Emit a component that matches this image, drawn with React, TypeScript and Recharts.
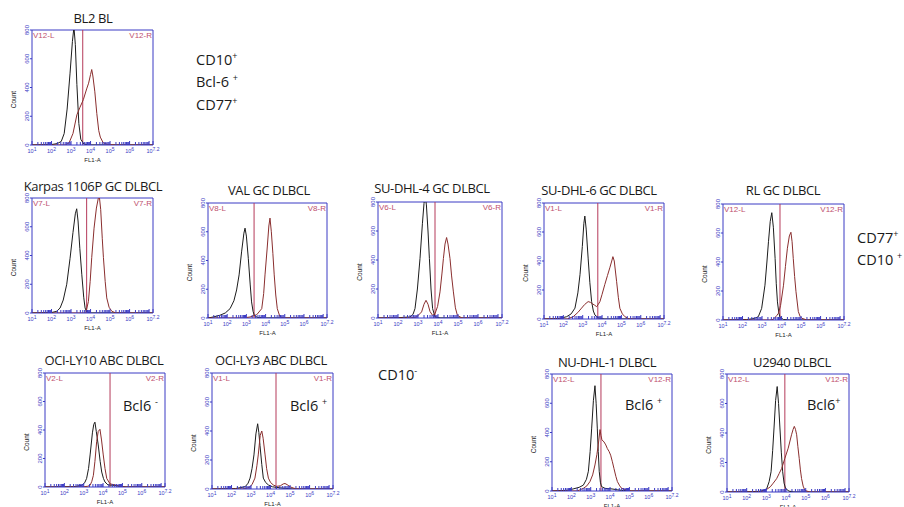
import { LineChart, Line, XAxis, YAxis, ReferenceLine, ReferenceArea } from 'recharts';

type Pt = [number, number];

const BLUE = '#3b3bc4';
const GATE = '#b53a5a';
const GATE_TXT = '#c0506e';
const STAIN = '#8a2e2e';
const ISO = '#1c1c1c';

// FL1-A decades (log scale, 10^1 .. 10^7.2) and count ticks
const decades = [1, 2, 3, 4, 5, 6, 7, 7.2];
const decadeLabels = [1, 2, 3, 4, 5, 6, 7.2];
const countTicks = [0, 200, 400, 600, 800];
const minorTicks: number[] = [];
for (let d = 1; d < 7.2; d++) {
  for (let k = 2; k <= 9; k++) {
    const v = d + Math.log10(k);
    if (v < 7.2) minorTicks.push(v);
  }
}
const flTicks = [...decades, ...minorTicks].sort((a, b) => a - b);

// histograms: [log10 FL1-A, count]
const bl2Iso: Pt[] = [[1, 0], [2.0, 3], [2.3, 10], [2.5, 25], [2.65, 80], [2.8, 250], [2.95, 500], [3.07, 720], [3.15, 820], [3.22, 700], [3.3, 420], [3.4, 150], [3.5, 40], [3.65, 8], [3.9, 0], [7.2, 0]];
const bl2Stain: Pt[] = [[1, 0], [2.7, 0], [2.9, 15], [3.1, 80], [3.3, 210], [3.45, 260], [3.63, 315], [3.8, 390], [3.9, 430], [4.0, 490], [4.06, 525], [4.12, 480], [4.22, 370], [4.32, 220], [4.42, 100], [4.5, 55], [4.65, 15], [4.9, 3], [5.3, 0], [7.2, 0]];

const karpasIso: Pt[] = [[1, 0], [2.0, 3], [2.27, 12], [2.44, 35], [2.6, 90], [2.78, 200], [2.95, 380], [3.1, 560], [3.22, 690], [3.29, 725], [3.36, 640], [3.45, 450], [3.55, 270], [3.65, 110], [3.72, 35], [3.8, 8], [4.0, 0], [7.2, 0]];
const karpasStain: Pt[] = [[1, 0], [3.7, 0], [3.77, 10], [3.89, 80], [3.98, 220], [4.06, 385], [4.18, 590], [4.3, 730], [4.4, 800], [4.45, 810], [4.52, 720], [4.6, 520], [4.66, 385], [4.75, 220], [4.83, 105], [4.95, 40], [5.09, 12], [5.3, 0], [7.2, 0]];

const valIso: Pt[] = [[1, 0], [1.27, 7], [1.62, 19], [1.9, 35], [2.15, 65], [2.35, 120], [2.49, 195], [2.62, 300], [2.75, 460], [2.87, 590], [2.93, 625], [3.0, 570], [3.1, 415], [3.2, 230], [3.27, 112], [3.35, 45], [3.42, 15], [3.6, 3], [4.0, 0], [7.2, 0]];
const valStain: Pt[] = [[1, 0], [2.8, 0], [3.19, 7], [3.54, 23], [3.8, 65], [3.9, 170], [3.97, 300], [4.08, 480], [4.17, 640], [4.23, 695], [4.3, 600], [4.38, 450], [4.45, 300], [4.53, 160], [4.61, 65], [4.75, 8], [5.0, 0], [7.2, 0]];

const sudhl4Iso: Pt[] = [[1, 0], [2.0, 2], [2.6, 7], [2.75, 25], [2.85, 65], [2.97, 200], [3.1, 410], [3.22, 650], [3.3, 790], [3.35, 850], [3.42, 780], [3.5, 600], [3.57, 410], [3.65, 200], [3.73, 65], [3.85, 8], [4.1, 0], [7.2, 0]];
const sudhl4Stain: Pt[] = [[1, 0], [2.6, 0], [2.93, 7], [3.18, 42], [3.3, 95], [3.4, 122], [3.5, 95], [3.6, 45], [3.73, 18], [3.85, 30], [3.98, 80], [4.1, 180], [4.2, 310], [4.27, 410], [4.35, 510], [4.43, 555], [4.5, 510], [4.6, 410], [4.68, 290], [4.77, 180], [4.87, 70], [4.97, 18], [5.2, 0], [7.2, 0]];

const sudhl6Iso: Pt[] = [[1, 0], [1.8, 3], [2.17, 16], [2.4, 35], [2.6, 75], [2.75, 180], [2.86, 306], [2.98, 500], [3.06, 660], [3.11, 710], [3.18, 620], [3.28, 420], [3.37, 250], [3.46, 120], [3.55, 55], [3.63, 28], [3.8, 8], [4.1, 0], [7.2, 0]];
const sudhl6Stain: Pt[] = [[1, 0], [2.2, 0], [2.51, 16], [2.75, 45], [2.94, 75], [3.1, 100], [3.28, 120], [3.4, 115], [3.5, 105], [3.62, 95], [3.72, 85], [3.8, 100], [3.89, 120], [4.0, 170], [4.14, 237], [4.28, 300], [4.4, 353], [4.5, 400], [4.56, 430], [4.63, 400], [4.75, 260], [4.84, 150], [4.92, 74], [5.05, 35], [5.18, 16], [5.4, 0], [7.2, 0]];

const rlIso: Pt[] = [[1, 0], [2.2, 3], [2.6, 10], [2.81, 23], [2.98, 80], [3.15, 240], [3.25, 400], [3.33, 540], [3.42, 680], [3.5, 740], [3.58, 640], [3.67, 425], [3.73, 250], [3.79, 125], [3.86, 50], [3.92, 20], [4.1, 3], [4.4, 0], [7.2, 0]];
const rlStain: Pt[] = [[1, 0], [3.4, 0], [3.58, 5], [3.75, 30], [3.84, 46], [3.95, 100], [4.1, 240], [4.2, 370], [4.3, 495], [4.4, 580], [4.48, 605], [4.54, 540], [4.6, 425], [4.67, 300], [4.74, 195], [4.86, 58], [4.95, 25], [5.04, 12], [5.3, 0], [7.2, 0]];

const ly10Iso: Pt[] = [[1, 0], [2.5, 2], [2.9, 12], [3.05, 30], [3.15, 60], [3.25, 130], [3.33, 225], [3.45, 380], [3.52, 440], [3.58, 455], [3.65, 390], [3.75, 295], [3.85, 180], [3.93, 105], [4.02, 60], [4.1, 35], [4.25, 15], [4.5, 12], [4.7, 10], [4.9, 3], [5.2, 0], [7.2, 0]];
const ly10Stain: Pt[] = [[1, 0], [2.9, 0], [3.2, 5], [3.33, 12], [3.42, 40], [3.5, 82], [3.58, 180], [3.67, 320], [3.75, 390], [3.84, 405], [3.92, 330], [4.01, 225], [4.1, 130], [4.19, 60], [4.36, 22], [4.6, 15], [4.8, 8], [5.1, 0], [7.2, 0]];

const ly3Iso: Pt[] = [[1, 0], [2.2, 3], [2.7, 16], [2.85, 40], [2.95, 75], [3.05, 140], [3.15, 235], [3.25, 380], [3.34, 450], [3.4, 390], [3.46, 300], [3.55, 170], [3.63, 75], [3.75, 45], [3.89, 28], [4.1, 15], [4.5, 8], [4.8, 4], [5.1, 0], [7.2, 0]];
const ly3Stain: Pt[] = [[1, 0], [2.6, 0], [2.9, 10], [3.05, 30], [3.2, 75], [3.3, 160], [3.37, 235], [3.47, 370], [3.55, 400], [3.62, 350], [3.72, 235], [3.8, 140], [3.89, 75], [4.0, 45], [4.14, 28], [4.3, 18], [4.5, 22], [4.65, 35], [4.74, 38], [4.85, 30], [5.0, 15], [5.2, 5], [5.4, 0], [7.2, 0]];

const nudhlIso: Pt[] = [[1, 0], [1.8, 5], [2.09, 14], [2.4, 25], [2.62, 40], [2.78, 80], [2.88, 135], [2.97, 270], [3.05, 430], [3.14, 620], [3.22, 720], [3.28, 600], [3.34, 430], [3.39, 270], [3.44, 135], [3.5, 60], [3.56, 30], [3.74, 18], [4.1, 14], [4.4, 8], [4.7, 3], [5.0, 0], [7.2, 0]];
const nudhlStain: Pt[] = [[1, 0], [2.3, 0], [2.62, 18], [2.8, 35], [2.96, 64], [3.1, 110], [3.22, 178], [3.32, 250], [3.39, 315], [3.48, 420], [3.53, 380], [3.58, 350], [3.69, 335], [3.78, 315], [3.86, 290], [3.95, 270], [4.03, 245], [4.12, 200], [4.2, 155], [4.3, 100], [4.38, 64], [4.5, 35], [4.6, 18], [4.85, 7], [5.1, 0], [7.2, 0]];

const u2940Iso: Pt[] = [[1, 0], [2.3, 2], [2.68, 5], [2.9, 12], [3.02, 23], [3.14, 70], [3.24, 137], [3.32, 280], [3.39, 434], [3.47, 620], [3.55, 715], [3.62, 600], [3.69, 434], [3.76, 270], [3.83, 137], [3.9, 60], [3.98, 23], [4.15, 6], [4.4, 0], [7.2, 0]];
const u2940Stain: Pt[] = [[1, 0], [2.7, 0], [3.02, 18], [3.2, 35], [3.35, 60], [3.52, 90], [3.65, 125], [3.78, 160], [3.94, 228], [4.11, 297], [4.28, 388], [4.36, 425], [4.42, 445], [4.48, 425], [4.54, 388], [4.6, 310], [4.67, 228], [4.73, 150], [4.79, 91], [4.87, 40], [4.96, 11], [5.2, 0], [7.2, 0]];

type PanelDef = {
  title: string;
  region: string;
  gate: number;
  iso: Pt[];
  stain: Pt[];
  box: [number, number, number, number];
  tx: number;
  ty: number;
};

const panels: PanelDef[] = [
  { title: 'BL2 BL', region: 'V12', gate: 3.6, iso: bl2Iso, stain: bl2Stain, box: [32, 30, 121, 115], tx: 93, ty: 18 },
  { title: 'Karpas 1106P GC DLBCL', region: 'V7', gate: 3.8, iso: karpasIso, stain: karpasStain, box: [32, 198, 121, 115], tx: 93, ty: 186 },
  { title: 'VAL GC DLBCL', region: 'V8', gate: 3.4, iso: valIso, stain: valStain, box: [208, 203, 119, 115], tx: 269, ty: 190 },
  { title: 'SU-DHL-4 GC DLBCL', region: 'V6', gate: 3.85, iso: sudhl4Iso, stain: sudhl4Stain, box: [378, 202, 124, 116], tx: 432, ty: 188 },
  { title: 'SU-DHL-6 GC DLBCL', region: 'V1', gate: 3.78, iso: sudhl6Iso, stain: sudhl6Stain, box: [544, 203, 120, 116], tx: 599, ty: 190 },
  { title: 'RL GC DLBCL', region: 'V12', gate: 3.92, iso: rlIso, stain: rlStain, box: [723, 204, 121, 116], tx: 783, ty: 190 },
  { title: 'OCI-LY10 ABC DLBCL', region: 'V2', gate: 4.36, iso: ly10Iso, stain: ly10Stain, box: [45, 373, 120, 114], tx: 104, ty: 360 },
  { title: 'OCI-LY3 ABC DLBCL', region: 'V1', gate: 4.28, iso: ly3Iso, stain: ly3Stain, box: [212, 373, 121, 116], tx: 271, ty: 360 },
  { title: 'NU-DHL-1 DLBCL', region: 'V12', gate: 3.53, iso: nudhlIso, stain: nudhlStain, box: [552, 374, 120, 117], tx: 607, ty: 362 },
  { title: 'U2940 DLBCL', region: 'V12', gate: 3.94, iso: u2940Iso, stain: u2940Stain, box: [727, 374, 122, 118], tx: 792, ty: 362 },
];

const toRows = (pts: Pt[]) => pts.map(([x, y]) => ({ x, y }));

function FlTick({ x, y, payload }: any) {
  const v = payload.value as number;
  const major = decades.includes(v);
  const labelled = decadeLabels.includes(v);
  return (
    <g>
      <line x1={x} x2={x} y1={y} y2={y - (major ? 4 : 3)} stroke={BLUE} strokeWidth={1} />
      {labelled && (
        <text x={x} y={y + 8} textAnchor="middle" fontSize={5.5} fill={BLUE} fontFamily="Liberation Sans">
          10<tspan dy={-2} fontSize={5}>{v}</tspan>
        </text>
      )}
    </g>
  );
}

function CountTick({ x, y, payload }: any) {
  return (
    <text x={x} y={y} transform={`rotate(-90, ${x}, ${y})`} textAnchor="middle" fontSize={6} fill={BLUE} fontFamily="Liberation Sans">
      {payload.value}
    </text>
  );
}

const ML = 26;
const MT = 7;
const MR = 10;
const XH = 22;

function Panel({ p }: { p: PanelDef }) {
  const [l, t, w, h] = p.box;
  return (
    <>
      <div
        style={{
          position: 'absolute',
          left: p.tx - 110,
          width: 220,
          top: p.ty - 10,
          lineHeight: '20px',
          textAlign: 'center',
          fontFamily: 'Open Sans',
          fontSize: 13,
          letterSpacing: -0.4,
          color: '#1a1a1a',
          whiteSpace: 'nowrap',
        }}
      >
        {p.title}
      </div>
      <div style={{ position: 'absolute', left: l - ML, top: t - MT }}>
        <LineChart width={w + ML + MR} height={h + MT + XH} margin={{ top: MT, right: MR, left: 0, bottom: 0 }}>
          <XAxis
            type="number"
            dataKey="x"
            domain={[1, 7.2]}
            ticks={flTicks}
            interval={0}
            tick={<FlTick />}
            tickLine={false}
            tickSize={0}
            tickMargin={0}
            axisLine={false}
            height={XH}
            allowDataOverflow
            label={(props: any) => {
              const vb = props.viewBox;
              return (
                <text x={vb.x + vb.width / 2} y={vb.y + 17} textAnchor="middle" fontSize={6} fill="#222" fontFamily="Liberation Sans">
                  FL1-A
                </text>
              );
            }}
          />
          <YAxis
            type="number"
            domain={[0, 800]}
            ticks={countTicks}
            interval={0}
            tick={<CountTick />}
            tickSize={2}
            tickMargin={1}
            tickLine={{ stroke: BLUE }}
            axisLine={false}
            width={ML}
            allowDataOverflow
            label={(props: any) => {
              const vb = props.viewBox;
              const cx = vb.x + 9.5;
              const cy = vb.y + vb.height / 2 + 12;
              return (
                <text x={cx} y={cy} transform={`rotate(-90, ${cx}, ${cy})`} textAnchor="middle" fontSize={6.5} fill="#222" fontFamily="Liberation Sans">
                  Count
                </text>
              );
            }}
          />
          <ReferenceArea x1={1} x2={7.2} y1={0} y2={800} fill="none" stroke={BLUE} strokeWidth={1} />
          <ReferenceLine x={p.gate} stroke={GATE} strokeWidth={1} />
          <Line data={toRows(p.iso)} dataKey="y" type="linear" stroke={ISO} strokeWidth={1} dot={false} isAnimationActive={false} />
          <Line data={toRows(p.stain)} dataKey="y" type="linear" stroke={STAIN} strokeWidth={1} dot={false} isAnimationActive={false} />
        </LineChart>
      </div>
      <div
        style={{
          position: 'absolute',
          left: l + 1,
          top: t + 1,
          width: w - 2,
          display: 'flex',
          justifyContent: 'space-between',
          fontFamily: 'Liberation Sans',
          fontSize: 8,
          lineHeight: '9px',
          color: GATE_TXT,
        }}
      >
        <span>{p.region}-L</span>
        <span>{p.region}-R</span>
      </div>
    </>
  );
}

const note: React.CSSProperties = {
  position: 'absolute',
  fontFamily: 'Open Sans',
  fontSize: 14.5,
  lineHeight: '20px',
  color: '#1a1a1a',
  whiteSpace: 'nowrap',
};
const sup: React.CSSProperties = { fontSize: 9, verticalAlign: 'super', lineHeight: 0 };

export default function App() {
  return (
    <div style={{ position: 'absolute', left: 0, top: 0, width: 904, height: 507, background: '#fff', overflow: 'hidden' }}>
      {panels.map((p) => (
        <Panel key={p.title} p={p} />
      ))}
      <div style={{ ...note, left: 196, top: 50 }}>CD10<span style={sup}>+</span></div>
      <div style={{ ...note, left: 196, top: 72 }}>Bcl-6 <span style={sup}>+</span></div>
      <div style={{ ...note, left: 196, top: 95 }}>CD77<span style={sup}>+</span></div>
      <div style={{ ...note, left: 857, top: 228 }}>CD77<span style={sup}>+</span></div>
      <div style={{ ...note, left: 857, top: 250 }}>CD10 <span style={sup}>+</span></div>
      <div style={{ ...note, left: 378, top: 365 }}>CD10<span style={sup}>-</span></div>
      <div style={{ ...note, left: 123, top: 396 }}>Bcl6 <span style={sup}>-</span></div>
      <div style={{ ...note, left: 290, top: 396 }}>Bcl6 <span style={sup}>+</span></div>
      <div style={{ ...note, left: 625, top: 395 }}>Bcl6 <span style={sup}>+</span></div>
      <div style={{ ...note, left: 807, top: 395 }}>Bcl6<span style={sup}>+</span></div>
    </div>
  );
}
